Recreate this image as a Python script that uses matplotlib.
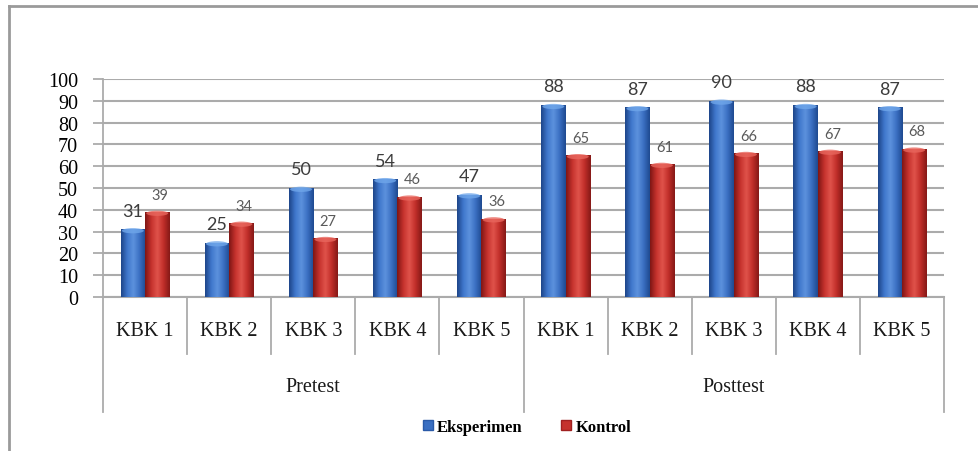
import numpy as np
import matplotlib
matplotlib.use("Agg")
import matplotlib.pyplot as plt
from matplotlib.colors import LinearSegmentedColormap
from matplotlib.lines import Line2D
from matplotlib.patches import Patch, Ellipse

# scores per KBK, pretest then posttest
categories = ["KBK 1", "KBK 2", "KBK 3", "KBK 4", "KBK 5"] * 2
groups = ["Pretest", "Posttest"]
eksperimen = [31, 25, 50, 54, 47, 88, 87, 90, 88, 87]
kontrol = [39, 34, 27, 46, 36, 65, 61, 66, 67, 68]
series_names = ["Eksperimen", "Kontrol"]

W, H = 979, 452
fig = plt.figure(figsize=(W / 100, H / 100), dpi=100)
fig.patch.set_facecolor("white")

# plot area in pixels
x0, x1, y_top, y_bot = 103, 944, 80, 298
ax = fig.add_axes([x0 / W, 1 - y_bot / H, (x1 - x0) / W, (y_bot - y_top) / H])
ax_h = y_bot - y_top

serif = "Liberation Serif"
sans = "Lato"
grid_c = "#ababab"

blue_cmap = LinearSegmentedColormap.from_list(
    "blue_cyl", ["#1d4589", "#3f77cc", "#5d92dd", "#3a6fc2", "#1f4a90"])
red_cmap = LinearSegmentedColormap.from_list(
    "red_cyl", ["#7f1614", "#c5322d", "#e0534b", "#c02e29", "#851917"])
cap_colors = {"blue": "#6fa6ea", "red": "#e8665d"}

x = np.arange(len(categories))
bw = 0.29
bars_e = ax.bar(x - bw / 2, eksperimen, bw, color="#3a6fc2", zorder=3)
bars_k = ax.bar(x + bw / 2, kontrol, bw, color="#c5322d", zorder=3)

grad = np.linspace(0, 1, 64).reshape(1, -1)
for bars, cmap, key in [(bars_e, blue_cmap, "blue"), (bars_k, red_cmap, "red")]:
    for b in bars:
        bx, by = b.get_x(), b.get_y()
        w, h = b.get_width(), b.get_height()
        im = ax.imshow(grad, cmap=cmap, aspect="auto", extent=[bx, bx + w, by, by + h],
                       zorder=4, interpolation="bicubic")
        im.set_clip_path(b)
        # lighter rounded cap at the top of each bar
        cap = Ellipse((bx + w / 2, by + h - 0.6), w * 0.9, 2.4,
                      color=cap_colors[key], zorder=5, alpha=0.8, lw=0)
        ax.add_patch(cap)

# value labels
for b, v in zip(bars_e, eksperimen):
    ax.annotate(str(v), (b.get_x() + b.get_width() / 2, v), xytext=(0, 13.5),
                textcoords="offset points", ha="center", va="center",
                fontsize=13, color="#3c3c3c", family=sans, zorder=6)
for b, v in zip(bars_k, kontrol):
    ax.annotate(str(v), (b.get_x() + b.get_width() / 2, v), xytext=(2, 12.5),
                textcoords="offset points", ha="center", va="center",
                fontsize=10.5, color="#5a5a5a", family=sans, zorder=6)

ax.set_xlim(-0.5, len(categories) - 0.5)
ax.set_ylim(0, 100)
ax.set_yticks(range(0, 101, 10))
ax.set_yticklabels([str(t) for t in range(0, 101, 10)], family=serif, fontsize=14.5)
ax.tick_params(axis="y", length=7, width=1.3, color=grid_c, pad=11)
ax.set_xticks([])
ax.grid(axis="y", color=grid_c, lw=1.5, zorder=0)
for side in ["top", "right"]:
    ax.spines[side].set_visible(False)
ax.spines["left"].set_color(grid_c)
ax.spines["bottom"].set_color(grid_c)
ax.spines["left"].set_linewidth(1.3)
ax.spines["bottom"].set_linewidth(1.5)
ax.set_axisbelow(True)

# two-level category axis below the plot
trans = ax.get_xaxis_transform()
short = -(355 - y_bot) / ax_h
long_ = -(413 - y_bot) / ax_h
for i in range(len(categories) + 1):
    bottom = long_ if i % 5 == 0 else short
    ax.plot([i - 0.5, i - 0.5], [0, bottom], transform=trans, color=grid_c,
            lw=1.3, clip_on=False)
for i, c in enumerate(categories):
    ax.text(i, -(332 - y_bot) / ax_h, c, transform=trans, ha="center", va="center",
            family=serif, fontsize=14.5, color="#1a1a1a")
for g, gname in enumerate(groups):
    ax.text(g * 5 + 2, -(388 - y_bot) / ax_h, gname, transform=trans, ha="center",
            va="center", family=serif, fontsize=14.5, color="#1a1a1a")

# legend
handles = [Patch(facecolor="#3a6fc2", edgecolor="#2a5aa8"),
           Patch(facecolor="#c5322d", edgecolor="#a02020")]
fig.legend(handles, series_names, loc="center", bbox_to_anchor=(527 / W, 1 - 428 / H),
           ncol=2, frameon=False, handlelength=0.6, handleheight=0.6, handletextpad=0.25,
           columnspacing=2.3, prop={"family": serif, "weight": "bold", "size": 12})

# outer chart frame (top and left edges)
fig.add_artist(Line2D([9 / W, 1], [1 - 7 / H, 1 - 7 / H], transform=fig.transFigure,
                      color="#9a9a9a", lw=2))
fig.add_artist(Line2D([9 / W, 9 / W], [0, 1 - 7 / H], transform=fig.transFigure,
                      color="#9a9a9a", lw=2))

fig.savefig("out.png", dpi=100)
